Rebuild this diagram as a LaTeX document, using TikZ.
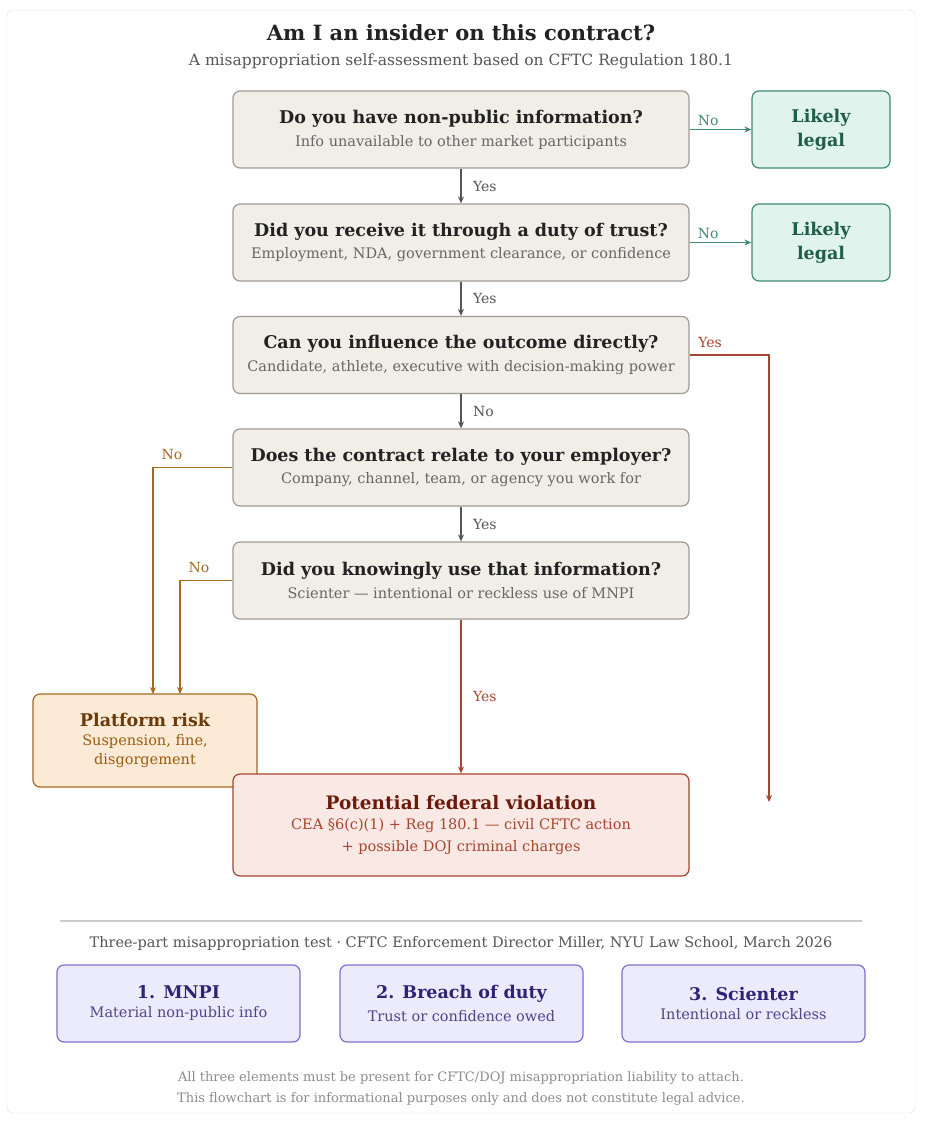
\documentclass[tikz,border=0pt]{standalone}
\usepackage{fontspec}
\setmainfont{DejaVu Serif}
\usetikzlibrary{arrows.meta}
\definecolor{qfill}{HTML}{F1EEE8}\definecolor{qdraw}{HTML}{A09C94}
\definecolor{gfill}{HTML}{E0F3EC}\definecolor{gdraw}{HTML}{3E8C6E}\definecolor{gtext}{HTML}{1F5E48}
\definecolor{ofill}{HTML}{FBEBD6}\definecolor{odraw}{HTML}{A8681E}\definecolor{otext}{HTML}{6B3A0A}\definecolor{osub}{HTML}{9A5A10}
\definecolor{rfill}{HTML}{F9E8E4}\definecolor{rdraw}{HTML}{A8452E}\definecolor{rtext}{HTML}{6B1A0A}
\definecolor{pfill}{HTML}{ECEBFC}\definecolor{pdraw}{HTML}{7C6FD0}\definecolor{ptext}{HTML}{2E2475}
\definecolor{dark}{HTML}{222222}\definecolor{gray1}{HTML}{555555}\definecolor{gray2}{HTML}{666666}
\tikzset{
 box/.style={draw, rounded corners=7pt, line width=1.2pt, align=center, inner sep=0pt},
 q/.style={box, fill=qfill, draw=qdraw, minimum width=456pt, minimum height=77pt},
 legal/.style={box, fill=gfill, draw=gdraw, text=gtext, minimum width=138pt, minimum height=77pt, font=\bfseries\fontsize{17.5}{24}\selectfont},
 cat/.style={box, fill=pfill, draw=pdraw, minimum width=243pt, minimum height=77pt},
 arr/.style={-{Stealth[length=7pt,width=6pt]}, line width=1.4pt},
 lbl/.style={font=\fontsize{14}{16}\selectfont},
}
\newcommand{\qt}[2]{{\bfseries\fontsize{17.5}{21}\selectfont\color{dark}#1}\\[7pt]{\fontsize{14.5}{17}\selectfont\color{gray2}#2}}
\begin{document}
\begin{tikzpicture}[x=1pt,y=-1pt]
\useasboundingbox (0,0) rectangle (928,1126);
\draw[rounded corners=6pt, draw=black!12, fill=white] (7,10) rectangle (915,1113);
\node[font=\bfseries\fontsize{21}{25}\selectfont, text=dark] (title) at (461,33) {Am I an insider on this contract?};
\node[font=\fontsize{15.5}{18}\selectfont, text=gray1] (sub) at (461,61) {A misappropriation self-assessment based on CFTC Regulation 180.1};
\node[q] (q1) at (461,129.5) {\qt{Do you have non-public information?}{Info unavailable to other market participants}};
\node[q] (q2) at (461,242.5) {\qt{Did you receive it through a duty of trust?}{Employment, NDA, government clearance, or confidence}};
\node[q] (q3) at (461,355) {\qt{Can you influence the outcome directly?}{Candidate, athlete, executive with decision-making power}};
\node[q] (q4) at (461,467.5) {\qt{Does the contract relate to your employer?}{Company, channel, team, or agency you work for}};
\node[q] (q5) at (461,580.5) {\qt{Did you knowingly use that information?}{Scienter --- intentional or reckless use of MNPI}};
\node[legal] (l1) at (821,129.5) {Likely\\legal};
\node[legal] (l2) at (821,242.5) {Likely\\legal};
\node[box, fill=ofill, draw=odraw, minimum width=224pt, minimum height=93pt] (pr) at (145,740.5)
 {\qt{\color{otext}Platform risk}{\color{osub}Suspension, fine,}\\[4pt]{\fontsize{14.5}{17}\selectfont\color{osub}disgorgement}};
\node[box, fill=rfill, draw=rdraw, minimum width=456pt, minimum height=102pt] (fv) at (461,825)
 {{\bfseries\fontsize{18.5}{22}\selectfont\color{rtext}Potential federal violation}\\[8pt]{\fontsize{14.5}{17}\selectfont\color{rdraw}CEA §6(c)(1) + Reg 180.1 --- civil CFTC action}\\[6pt]{\fontsize{14.5}{17}\selectfont\color{rdraw}+ possible DOJ criminal charges}};
% connectors
\draw[arr, draw=gray1] (q1) -- node[lbl, right=8pt, text=gray1]{Yes} (q2);
\draw[arr, draw=gray1] (q2) -- node[lbl, right=8pt, text=gray1]{Yes} (q3);
\draw[arr, draw=gray1] (q3) -- node[lbl, right=8pt, text=gray1]{No} (q4);
\draw[arr, draw=gray1] (q4) -- node[lbl, right=8pt, text=gray1]{Yes} (q5);
\draw[arr, draw=gdraw] (q1.east) -- node[lbl, above, pos=0.3, text=gdraw]{No} (l1.west);
\draw[arr, draw=gdraw] (q2.east) -- node[lbl, above, pos=0.3, text=gdraw]{No} (l2.west);
\coordinate (yend) at (769,802);
\draw[arr, draw=rdraw] (q3.east) -- (769,355) -- (yend);
\node[lbl, text=rdraw] (ylab) at (710,342) {Yes};
\draw[arr, draw=odraw] (q4.west) -- (153,467.5) -- (153,694);
\node[lbl, text=odraw] (n1) at (172,454) {No};
\draw[arr, draw=odraw] (q5.west) -- (180,580.5) -- (180,694);
\node[lbl, text=odraw] (n2) at (199,567) {No};
\draw[arr, draw=rdraw] (q5) -- node[lbl, right=8pt, text=rdraw]{Yes} (fv);
% footer
\draw[draw=black!20, line width=1.2pt] (60,921) -- (862,921);
\node[font=\fontsize{14.5}{17}\selectfont, text=gray1] (ft) at (461,943) {Three-part misappropriation test · CFTC Enforcement Director Miller, NYU Law School, March 2026};
\node[cat] (c1) at (178.5,1003.5) {\qt{\color{ptext}1. MNPI}{\color{ptext!85}Material non-public info}};
\node[cat] (c2) at (461.5,1003.5) {\qt{\color{ptext}2. Breach of duty}{\color{ptext!85}Trust or confidence owed}};
\node[cat] (c3) at (743.5,1003.5) {\qt{\color{ptext}3. Scienter}{\color{ptext!85}Intentional or reckless}};
\node[font=\fontsize{13}{21}\selectfont, text=black!45, align=center] (fn) at (461,1088.5) {All three elements must be present for CFTC/DOJ misappropriation liability to attach.\\This flowchart is for informational purposes only and does not constitute legal advice.};
\end{tikzpicture}
\end{document}
